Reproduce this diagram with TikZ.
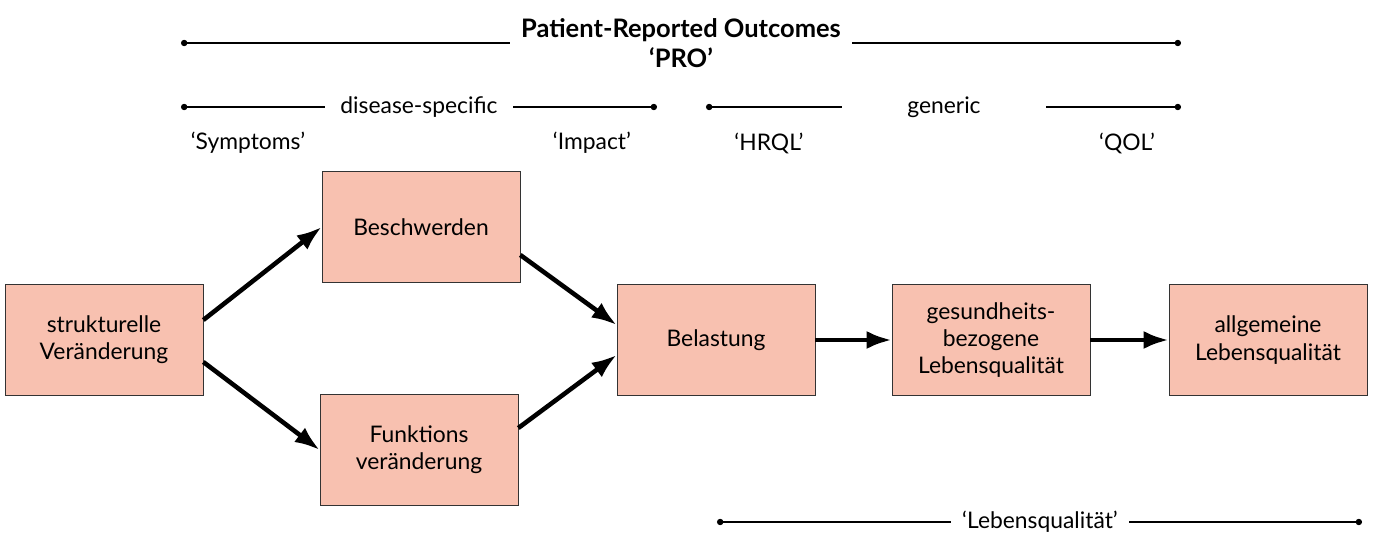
\documentclass[tikz,border=0pt]{standalone}
\usepackage{fontspec}
\setmainfont{Lato}
\usetikzlibrary{arrows.meta,positioning,calc}
\definecolor{boxfill}{RGB}{248,193,176}
\tikzset{
block/.style = {draw=black!80, fill=boxfill, rectangle, minimum height=2.22cm, minimum width=3.96cm, align=center, font=\fontsize{13}{15.5}\selectfont},
lbl/.style   = {inner sep=0pt, font=\fontsize{13}{15.5}\selectfont},
gap/.style   = {inner xsep=0.22cm, inner ysep=0pt, font=\fontsize{13}{15.5}\selectfont},
tmp/.style   = {coordinate},
flow/.style  = {->, line width=2.6pt},
span/.style  = {{Circle[length=3.6pt]}-, line width=0.75pt}
}
\begin{document}
\begin{tikzpicture}[x=0.02cm, y=-0.02cm, >={Latex[length=0.5cm,width=0.36cm]}]
  \useasboundingbox (0,0) rectangle (1373,536);

  % boxes
  \node [block] at (104,340)   (struk)  {strukturelle\\Veränderung};
  \node [block] at (421,227)   (besch)  {Beschwerden};
  \node [block] at (419,450)   (funk)   {Funktions\\veränderung};
  \node [block] at (716,340)   (belast) {Belastung};
  \node [block] at (991,340)   (gesund) {gesundheits-\\bezogene\\Lebensqualität};
  \node [block] at (1268,340)  (allg)   {allgemeine\\Lebensqualität};

  \draw [flow] ([yshift=0.4cm]struk.east)   -- (besch.west);
  \draw [flow] ([yshift=-0.44cm]struk.east) -- (funk.west);
  \draw [flow] ([yshift=-0.56cm]besch.east) -- ([yshift=0.3cm]belast.west);
  \draw [flow] ([yshift=0.44cm]funk.east)   -- ([yshift=-0.3cm]belast.west);
  \draw [flow] (belast) -- (gesund);
  \draw [flow] (gesund) -- (allg);

  % PRO
  \node [tmp] at (181,43)  (pro-l) {};
  \node [tmp] at (1181,43) (pro-r) {};
  \node [gap, align=center, font=\fontsize{14.5}{17}\selectfont\bfseries] at (681,43) (pro)
        {Patient-Reported Outcomes\\‘PRO’};
  \draw [span] (pro-l) -- (pro.west);
  \draw [span] (pro-r) -- (pro.east);

  % disease-specific / generic
  \node [tmp] at (181,107)  (ds-l) {};
  \node [tmp] at (657,107)  (ds-r) {};
  \node [gap, inner xsep=0.3cm] at (419,107) (ds) {disease-specific};
  \draw [span] (ds-l) -- (ds.west);
  \draw [span] (ds-r) -- (ds.east);

  \node [tmp] at (706,107)  (gen-l) {};
  \node [tmp] at (1181,107) (gen-r) {};
  \node [gap, inner xsep=1.3cm] at (944,107) (gen) {generic};
  \draw [span] (gen-l) -- (gen.west);
  \draw [span] (gen-r) -- (gen.east);

  \node [lbl] at (248,143)  (sym)  {‘Symptoms’};
  \node [lbl] at (592,143)  (imp)  {‘Impact’};
  \node [lbl] at (769,143)  (hrql) {‘HRQL’};
  \node [lbl] at (1127,143) (qol)  {‘QOL’};

  % Lebensqualitaet
  \node [tmp] at (717,522)  (lq-l) {};
  \node [tmp] at (1362,522) (lq-r) {};
  \node [gap] at (1040,522) (lq) {‘Lebensqualität’};
  \draw [span] (lq-l) -- (lq.west);
  \draw [span] (lq-r) -- (lq.east);
\end{tikzpicture}
\end{document}
